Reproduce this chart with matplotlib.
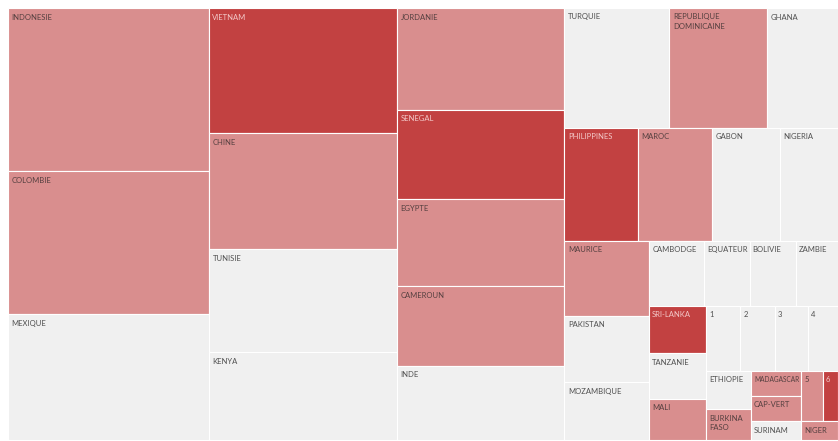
import matplotlib
matplotlib.use("Agg")
import matplotlib.pyplot as plt
from matplotlib.patches import Rectangle

# Countries in layout order (largest first) and their sizes
countries = [
    "INDONESIE", "COLOMBIE", "MEXIQUE",
    "VIETNAM", "CHINE", "TUNISIE", "KENYA",
    "JORDANIE", "SENEGAL", "EGYPTE", "CAMEROUN", "INDE",
    "TURQUIE", "REPUBLIQUE\nDOMINICAINE", "GHANA",
    "PHILIPPINES", "MAROC", "GABON", "NIGERIA",
    "MAURICE", "PAKISTAN", "MOZAMBIQUE",
    "CAMBODGE", "EQUATEUR", "BOLIVIE", "ZAMBIE",
    "SRI-LANKA", "TANZANIE", "MALI",
    "1", "2", "3", "4",
    "ETHIOPIE", "BURKINA\nFASO",
    "MADAGASCAR", "CAP-VERT", "SURINAM",
    "5", "6",
    "NIGER",
]
values = [
    328.2, 287.4, 252.7,
    235.4, 219.0, 193.4, 165.7,
    170.0, 149.8, 145.5, 132.8, 124.2,
    125.5, 116.6, 85.4,
    83.3, 83.5, 77.4, 65.7,
    63.4, 56.5, 48.9,
    35.6, 29.7, 29.9, 27.5,
    27.0, 26.1, 23.4,
    22.1, 22.6, 21.7, 19.3,
    17.2, 13.8,
    12.5, 12.7, 9.4,
    10.9, 7.6,
    6.9,
]
# 0 = not concerned, 1 = medium, 2 = high
level = [
    1, 1, 0,
    2, 1, 0, 0,
    1, 2, 1, 1, 0,
    0, 1, 0,
    2, 1, 0, 0,
    1, 0, 0,
    0, 0, 0, 0,
    2, 0, 1,
    0, 0, 0, 0,
    0, 1,
    1, 1, 0,
    1, 2,
    1,
]
# how many items go in each strip of the treemap
strips = [3, 4, 5, 3, 4, 3, 4, 3, 4, 2, 3, 2, 1]

fill = {0: "#f0f0f0", 1: "#d98e8e", 2: "#c24141"}
txt = {0: "#505050", 1: "#554040", 2: "#f3c9c9"}

W, H = 830.0, 432.0


def strip_layout(vals, counts, x, y, w, h):
    rects = []
    total = float(sum(vals))
    i = 0
    for n in counts:
        chunk = vals[i:i + n]
        s = float(sum(chunk))
        frac = s / total
        if w >= h:
            # vertical strip on the left
            sw = w * frac
            yy = y
            for v in chunk:
                hh = h * v / s
                rects.append((x, yy, sw, hh))
                yy += hh
            x += sw
            w -= sw
        else:
            # horizontal strip on the top
            sh = h * frac
            xx = x
            for v in chunk:
                ww = w * v / s
                rects.append((xx, y, ww, sh))
                xx += ww
            y += sh
            h -= sh
        total -= s
        i += n
    return rects


rects = strip_layout(values, strips, 0, 0, W, H)

fig = plt.figure(figsize=(8.38, 4.41), dpi=100)
ax = fig.add_axes([8 / 838, 1 / 441, 830 / 838, 432 / 441])
ax.set_xlim(0, W)
ax.set_ylim(H, 0)
ax.axis("off")

renderer = fig.canvas.get_renderer()
for (x, y, w, h), name, lv in zip(rects, countries, level):
    box = Rectangle((x, y), w, h, facecolor=fill[lv], edgecolor="white", linewidth=0.8)
    ax.add_patch(box)
    pad = 3 if w < 60 else 3.5
    t = ax.text(x + pad, y + 5.5, name, ha="left", va="top", fontsize=5.5, color=txt[lv],
                family="Lato", linespacing=1.45)
    # shrink the label a bit if it would spill out of its cell
    tw = t.get_window_extent(renderer).width
    if tw > w - pad - 1.5:
        t.set_fontsize(5.5 * (w - pad - 1.5) / tw)
    t.set_clip_path(box)

fig.savefig("out.png", dpi=100)
